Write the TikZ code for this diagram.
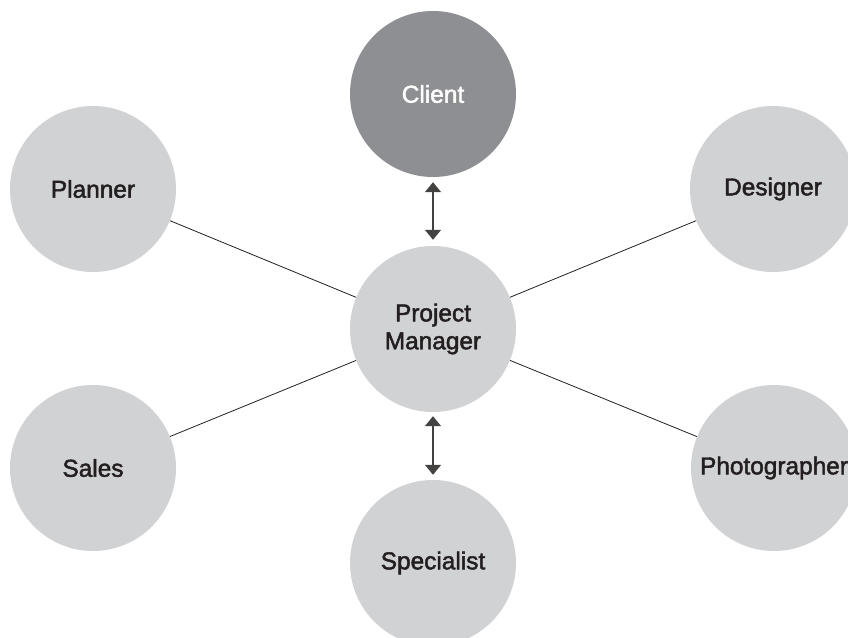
\documentclass[tikz,border=0pt]{standalone}
\usepackage{fontspec}
\setmainfont{Liberation Sans}[FakeBold=1.9]
\usetikzlibrary{arrows.meta}
\definecolor{lightc}{HTML}{D1D2D4}
\definecolor{darkc}{HTML}{8E8F92}
\definecolor{txtc}{HTML}{231F20}
\begin{document}
\begin{tikzpicture}[x=1bp,y=-1bp,
  role/.style={circle,fill=lightc,minimum size=166bp,inner sep=0pt,text=txtc,
    font=\fontsize{24.5}{28}\selectfont,align=center},
  link/.style={draw=txtc,line width=0.8bp},
  dbl/.style={draw=txtc!85,line width=1.1bp,{Triangle[width=16bp,length=10bp]}-{Triangle[width=16bp,length=10bp]}}]
\useasboundingbox (0,0) rectangle (848,638);
\node[role,fill=darkc,text=white] (client) at (433,94) {Client};
\node[role] (pm) at (433,329) {Project\\Manager};
\node[role] (planner) at (93,189) {Planner};
\node[role] (designer) at (773,189) {Designer};
\node[role] (sales) at (93,468) {Sales};
\node[role] (photo) at (774,468) {Photographer};
\node[role] (spec) at (433,563) {Specialist};
\draw[link] (planner) -- (pm);
\draw[link] (designer) -- (pm);
\draw[link] (sales) -- (pm);
\draw[link] (photo) -- (pm);
\draw[dbl,shorten <=5bp,shorten >=6bp] (client) -- (pm);
\draw[dbl,shorten <=4bp,shorten >=5bp] (pm) -- (spec);
\end{tikzpicture}
\end{document}
